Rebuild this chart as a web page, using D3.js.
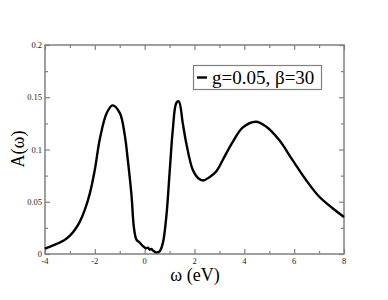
<!DOCTYPE html>
<html lang="en">
<head>
    <meta charset="UTF-8">
    <title>A(omega)</title>
    <style>
        body { margin: 0; background: #fff; }
        svg text { font-family: "Liberation Serif", "Times New Roman", serif; }
    </style>
</head>
<body>
    <div id="chart"></div>
    <script src="https://d3js.org/d3.v7.min.js"></script>
    <script>
        // spectral function
        const omega = [-4, -3.6, -3.2, -3, -2.8, -2.6, -2.4, -2.2, -2.0, -1.8, -1.53, -1.29, -1.0, -0.8, -0.67, -0.53, -0.43, -0.33,
            -0.2, -0.07, 0.05, 0.13, 0.2, 0.27, 0.35, 0.47, 0.6, 0.73, 0.87, 1.0, 1.13, 1.27, 1.37, 1.53, 1.67, 1.93,
            2.15, 2.35, 2.6, 2.87, 3.2, 3.53, 3.93, 4.47, 4.87, 5.4, 5.93, 6.47, 7.0, 7.53, 8];
        const spectral = [0.0051, 0.0089, 0.0137, 0.0175, 0.0232, 0.031, 0.0424, 0.058, 0.0806, 0.110, 0.1345, 0.1422, 0.135, 0.114, 0.0886, 0.0567, 0.0249, 0.0137,
            0.011, 0.0075, 0.0055, 0.0060, 0.0042, 0.0048, 0.0030, 0.0016, 0.0025, 0.0105, 0.036, 0.0775, 0.119, 0.1445, 0.146, 0.125, 0.106, 0.0806,
            0.0725, 0.0704, 0.0735, 0.0790, 0.093, 0.107, 0.121, 0.1266, 0.122, 0.109, 0.090, 0.071, 0.055, 0.044, 0.0354];
        const xTicks = [-4, -2, 0, 2, 4, 6, 8];
        const xMinor = [-3, -1, 1, 3, 5, 7];
        const yTicks = [0, 0.05, 0.1, 0.15, 0.2];
        const yMinor = [0.025, 0.075, 0.125, 0.175];
        const legendLabel = "g=0.05, β=30";

        const width = 388, height = 300;
        const plot = { left: 45, right: 344, top: 45, bottom: 254 };

        const svg = d3.select("#chart").append("svg")
            .attr("width", width)
            .attr("height", height);

        const x = d3.scaleLinear().domain([-4, 8]).range([plot.left, plot.right]);
        const y = d3.scaleLinear().domain([0, 0.2]).range([plot.bottom, plot.top]);

        const axisColor = "#808080";
        const fmt = d => String(+d.toFixed(3));

        // inward ticks on all four sides
        function addTicks(axisFn, scale, ticks, size, transform) {
            const g = svg.append("g")
                .attr("transform", transform)
                .call(axisFn(scale).tickValues(ticks).tickSize(size).tickFormat(""));
            g.select(".domain").remove();
            g.selectAll("line").attr("stroke", axisColor).attr("stroke-width", 1.2);
            return g;
        }
        addTicks(d3.axisBottom, x, xTicks, -5, `translate(0,${plot.bottom})`);
        addTicks(d3.axisBottom, x, xMinor, -3, `translate(0,${plot.bottom})`);
        addTicks(d3.axisTop, x, xTicks, -5, `translate(0,${plot.top})`);
        addTicks(d3.axisTop, x, xMinor, -3, `translate(0,${plot.top})`);
        addTicks(d3.axisLeft, y, yTicks, -5, `translate(${plot.left},0)`);
        addTicks(d3.axisLeft, y, yMinor, -3, `translate(${plot.left},0)`);
        addTicks(d3.axisRight, y, yTicks, -5, `translate(${plot.right},0)`);
        addTicks(d3.axisRight, y, yMinor, -3, `translate(${plot.right},0)`);

        // tick labels
        svg.append("g").selectAll("text")
            .data(xTicks)
            .join("text")
            .attr("x", d => x(d))
            .attr("y", plot.bottom + 10)
            .attr("text-anchor", "middle")
            .attr("font-size", 8.5)
            .attr("fill", "#222")
            .text(d => d);
        svg.append("g").selectAll("text")
            .data(yTicks)
            .join("text")
            .attr("x", plot.left - 3)
            .attr("y", d => y(d) + 3)
            .attr("text-anchor", "end")
            .attr("font-size", 8.5)
            .attr("fill", "#222")
            .text(fmt);

        // frame
        svg.append("rect")
            .attr("x", plot.left).attr("y", plot.top)
            .attr("width", plot.right - plot.left).attr("height", plot.bottom - plot.top)
            .attr("fill", "none")
            .attr("stroke", axisColor)
            .attr("stroke-width", 1.5);

        // curve
        const pts = omega.map((w, i) => [w, spectral[i]]);
        svg.append("path")
            .datum(pts)
            .attr("fill", "none")
            .attr("stroke", "#000")
            .attr("stroke-width", 2.4)
            .attr("stroke-linejoin", "round")
            .attr("d", d3.line().x(d => x(d[0])).y(d => y(d[1])).curve(d3.curveCatmullRom.alpha(0.5)));

        // axis titles
        svg.append("text")
            .attr("x", 195)
            .attr("y", 281)
            .attr("text-anchor", "middle")
            .attr("font-size", 18)
            .text("ω (eV)");
        svg.append("text")
            .attr("transform", `translate(24,${149}) rotate(-90)`)
            .attr("text-anchor", "middle")
            .attr("font-size", 18)
            .text("A(ω)");

        // legend
        svg.append("rect")
            .attr("x", 193.5).attr("y", 65.5)
            .attr("width", 128).attr("height", 24)
            .attr("fill", "#fff")
            .attr("stroke", axisColor)
            .attr("stroke-width", 1.2);
        svg.append("line")
            .attr("x1", 197).attr("x2", 207)
            .attr("y1", 77.5).attr("y2", 77.5)
            .attr("stroke", "#000")
            .attr("stroke-width", 2.4);
        svg.append("text")
            .attr("x", 212)
            .attr("y", 84)
            .attr("font-size", 19)
            .text(legendLabel);
    </script>
</body>
</html>
